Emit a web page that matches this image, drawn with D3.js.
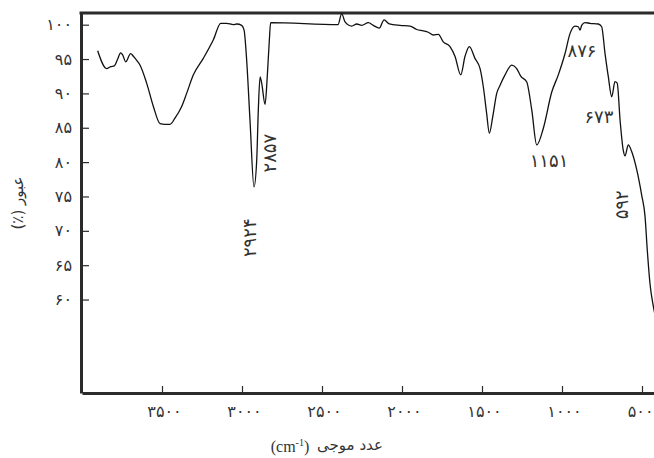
<!DOCTYPE html>
<html>
<head>
<meta charset="utf-8">
<script src="https://cdn.jsdelivr.net/npm/d3@7"></script>
<style>
  body { margin: 0; background: #fff; }
  svg { display: block; }
</style>
</head>
<body>
<svg id="chart" width="654" height="458"></svg>
<script>
// IR spectrum (cm-1, %T)
const wavenumbers = [
  3902, 3846, 3821, 3798, 3779, 3758, 3746, 3727, 3696, 3679, 3658, 3637,
  3596, 3554, 3512, 3481, 3450, 3419, 3377, 3346, 3304, 3242, 3179, 3133,
  3096, 3054, 3033, 3002, 2987, 2971, 2950, 2925, 2908, 2898, 2887, 2877,
  2856, 2842, 2829, 2821, 2400, 2377, 2356, 2314, 2283, 2252, 2210, 2179,
  2142, 2112, 2079, 2012, 1950, 1908, 1867, 1836, 1804, 1773, 1742, 1700,
  1669, 1633, 1606, 1579, 1544, 1512, 1492, 1471, 1454, 1433, 1408, 1387,
  1356, 1314, 1283, 1258, 1221, 1189, 1158, 1117, 1064, 1023, 981, 950,
  919, 898, 887, 877, 856, 825, 773, 752, 731, 711, 689, 669,
  655, 637, 617, 606, 586, 564, 533, 502, 481, 467, 450, 429, 412
];
const transmittance = [
  96.2, 93.6, 93.9, 94.0, 94.9, 95.9, 95.6, 94.6, 95.8, 95.4, 94.8, 94.1,
  91.5, 88.1, 85.6, 85.5, 85.5, 86.4, 88.1, 90.0, 92.7, 95.1, 97.8, 100.2,
  100.2, 100.0, 100.1, 99.9, 99.2, 94.9, 86.1, 76.4, 80.3, 87.6, 92.4, 91.5,
  88.4, 92.5, 97.8, 100.3, 100.0, 101.6, 100.4, 99.8, 100.1, 99.9, 100.3, 99.9,
  99.5, 100.7, 100.1, 99.9, 99.8, 99.3, 99.1, 98.9, 98.5, 98.6, 97.5, 96.8,
  95.4, 92.7, 95.4, 96.8, 95.1, 93.6, 91.0, 87.1, 84.2, 86.6, 90.0, 91.2,
  92.7, 94.1, 93.6, 92.5, 91.7, 87.6, 82.5, 84.9, 90.2, 92.7, 95.8, 98.7,
  99.8, 99.7, 99.2, 99.9, 100.3, 100.2, 100.1, 99.7, 95.8, 92.5, 89.5, 91.7,
  91.5, 86.1, 81.7, 80.9, 82.5, 81.5, 78.9, 75.2, 72.1, 67.2, 62.3, 59.0, 57.0
];

const xTicks = [3500, 3000, 2500, 2000, 1500, 1000, 500];
const yTicks = [60, 65, 70, 75, 80, 85, 90, 95, 100];

// peak annotations
const peakLabels = [2924, 2857, 1151, 876, 673, 592];

// where each annotation sits (data units) and whether it is turned
const labelPlacement = {
  2924: {w: 2950, v: 69.0, rot: true},
  2857: {w: 2825, v: 81.3, rot: true},
  1151: {w: 1081, v: 80.2, rot: false},
  876:  {w: 875,  v: 96.3, rot: false},
  673:  {w: 769,  v: 86.7, rot: false},
  592:  {w: 625,  v: 73.8, rot: true}
};

const fa = s => String(s).replace(/\d/g, d => '۰۱۲۳۴۵۶۷۸۹'[d]);

let svg = d3.select('#chart');

let x = d3.scaleLinear().domain([4000, 400]).range([82, 658]);
let y = d3.scaleLinear().domain([46.4, 101.7]).range([393, 13]);

const frameColor = '#2b2b2b';
const textColor = '#333';
const digitFont = '"DejaVu Sans", sans-serif';

// axes with inward ticks
let yAxis = d3.axisLeft(y)
    .tickValues(yTicks)
    .tickSizeInner(-8)
    .tickSizeOuter(0)
    .tickPadding(9)
    .tickFormat(fa);

let xAxis = d3.axisBottom(x)
    .tickValues(xTicks)
    .tickSizeInner(-7)
    .tickSizeOuter(0)
    .tickPadding(13)
    .tickFormat(fa);

let gy = svg.append('g')
    .attr('transform', `translate(${x.range()[0] - 1},0)`)
    .call(yAxis);

let gx = svg.append('g')
    .attr('transform', `translate(0,${y.range()[0]})`)
    .call(xAxis);

[gx, gy].forEach(g => {
    g.select('.domain').attr('stroke', frameColor).attr('stroke-width', 3);
    g.selectAll('.tick line').attr('stroke', frameColor).attr('stroke-width', 1.2);
    g.selectAll('.tick text')
        .attr('fill', textColor)
        .style('font-family', digitFont)
        .style('font-size', '16px');
});
gy.selectAll('.tick text').style('letter-spacing', '3px');
gx.selectAll('.tick text').style('letter-spacing', '4px').attr('dx', 2);

// the last label sits against the right edge, keep it inside
gx.selectAll('.tick text')
    .filter(d => d === xTicks[xTicks.length - 1])
    .style('letter-spacing', '2px')
    .attr('text-anchor', 'end')
    .attr('dx', 0)
    .attr('x', 653 - x(xTicks[xTicks.length - 1]));

// top border
svg.append('line')
    .attr('x1', x.range()[0] - 2.5)
    .attr('x2', 654)
    .attr('y1', y.range()[1])
    .attr('y2', y.range()[1])
    .attr('stroke', frameColor)
    .attr('stroke-width', 3);

// spectrum
let points = wavenumbers.map((w, i) => ({w: w, v: transmittance[i]}));

let line = d3.line()
    .x(d => x(d.w))
    .y(d => y(d.v))
    .curve(d3.curveMonotoneX);

svg.append('path')
    .datum(points)
    .attr('d', line)
    .attr('fill', 'none')
    .attr('stroke', '#111')
    .attr('stroke-width', 1.3);

// peak numbers
peakLabels.forEach(p => {
    let pos = labelPlacement[p];
    let px = x(pos.w), py = y(pos.v);
    svg.append('text')
        .attr('x', px)
        .attr('y', py)
        .attr('transform', pos.rot ? `rotate(-90,${px},${py})` : null)
        .attr('text-anchor', 'middle')
        .attr('dominant-baseline', 'central')
        .style('font-family', digitFont)
        .style('font-size', '18px')
        .style('letter-spacing', '2px')
        .attr('fill', textColor)
        .text(fa(p));
});

// axis titles
svg.append('text')
    .attr('x', 18)
    .attr('y', 203)
    .attr('transform', 'rotate(-90,18,203)')
    .attr('direction', 'rtl')
    .attr('text-anchor', 'middle')
    .attr('dominant-baseline', 'central')
    .style('font-family', digitFont)
    .style('font-size', '15px')
    .attr('fill', textColor)
    .text('عبور (٪)');

let xt = svg.append('text')
    .attr('x', 290)
    .attr('y', 452)
    .attr('text-anchor', 'middle')
    .style('font-family', '"Liberation Serif", serif')
    .style('font-size', '16px')
    .attr('fill', textColor);
xt.append('tspan').text('(cm');
xt.append('tspan').attr('dy', -6).style('font-size', '10px').text('-1');
xt.append('tspan').attr('dy', 6).text(')');

svg.append('text')
    .attr('x', 350)
    .attr('y', 450)
    .attr('text-anchor', 'middle')
    .style('font-family', digitFont)
    .style('font-size', '15px')
    .attr('fill', textColor)
    .text('عدد موجی');
</script>
</body>
</html>
